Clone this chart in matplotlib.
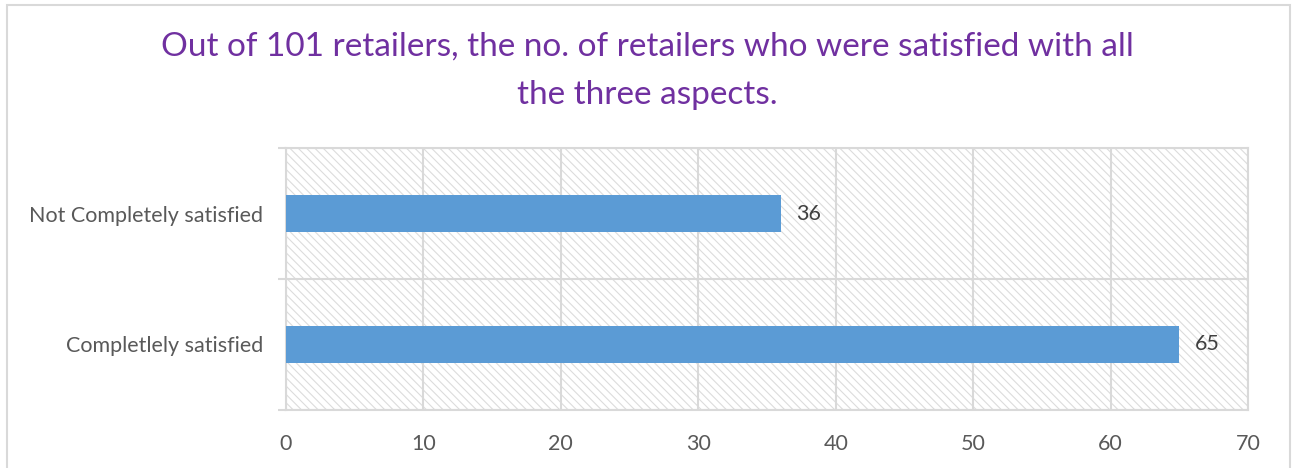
import matplotlib
matplotlib.use("Agg")
import matplotlib.pyplot as plt
from matplotlib.patches import Rectangle

categories = ["Completlely satisfied", "Not Completely satisfied"]
values = [65, 36]
xticks = [0, 10, 20, 30, 40, 50, 60, 70]
title = "Out of 101 retailers, the no. of retailers who were satisfied with all\nthe three aspects."

plt.rcParams['font.family'] = ['Lato', 'DejaVu Sans']
plt.rcParams['hatch.linewidth'] = 0.8
plt.rcParams['hatch.color'] = '#dcdcdc'

fig = plt.figure(figsize=(12.95, 4.68), dpi=100)
ax = fig.add_axes([286/1295, 1-410/468, (1248-286)/1295, (410-148)/468])

# figure border
fig.patches.append(Rectangle((7/1295, -0.05), (1290-7)/1295, 1.05 - 5/468,
                             transform=fig.transFigure, fill=False,
                             edgecolor='#d9d9d9', linewidth=1.5, zorder=0))

ax.set_xlim(0, 70)
ax.set_ylim(-0.5, len(categories) - 0.5)

# hatched plot area
ax.add_patch(Rectangle((0, 0), 1, 1, transform=ax.transAxes, facecolor='white',
                       hatch='\\\\\\\\', edgecolor='#dcdcdc', linewidth=0, zorder=0))

ypos = list(range(len(categories)))
ax.barh(ypos, values, height=0.29, color='#5b9bd5', zorder=3)
for y, v in zip(ypos, values):
    ax.text(v + 1.15, y, str(v), va='center', ha='left', fontsize=15.5, color='#404040')

ax.set_xticks(xticks)
ax.set_xticklabels([str(t) for t in xticks], fontsize=15.5, color='#595959')
ax.set_yticks(ypos)
ax.set_yticklabels(categories, fontsize=15.5, color='#595959')
ax.set_yticks([-0.5, 0.5, 1.5], minor=True)
ax.tick_params(axis='y', which='major', length=0, pad=16.5)
ax.tick_params(axis='y', which='minor', length=6, color='#d9d9d9', width=1.5)
ax.tick_params(axis='x', which='major', length=0, pad=17)

ax.grid(axis='x', color='#d9d9d9', linewidth=1.5, zorder=1)
ax.grid(axis='y', which='minor', color='#d9d9d9', linewidth=1.5, zorder=1)
ax.set_axisbelow(True)
for s in ax.spines.values():
    s.set_color('#d9d9d9')
    s.set_linewidth(1.5)

fig.text(0.5, 1-32/468, title, ha='center', va='top', fontsize=24,
         color='#7030a0', linespacing=1.75)

fig.savefig("out.png", dpi=100)
